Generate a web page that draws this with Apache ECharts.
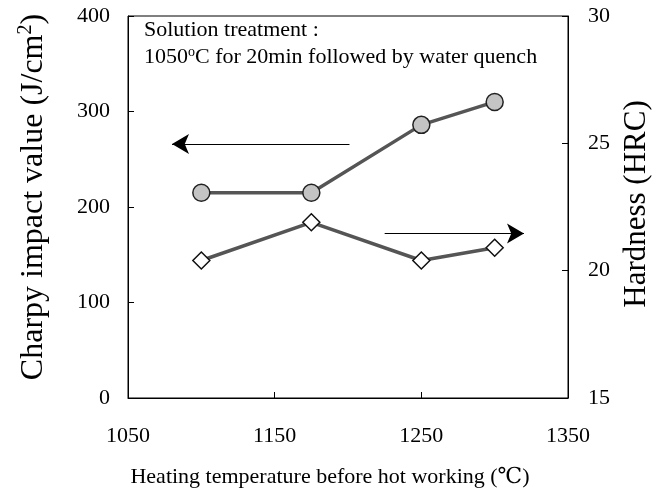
<!DOCTYPE html>
<html><head><meta charset="utf-8">
<script src="https://cdn.jsdelivr.net/npm/echarts@6/dist/echarts.min.js"></script>
<style>html,body{margin:0;padding:0;background:#fff}#c{width:664px;height:493px}</style>
</head><body><div id="c"></div>
<script>
const temps = [1100, 1175, 1250, 1300];
const charpy = [215, 215, 286, 310];
const hardness = [20.4, 21.9, 20.4, 20.9];
const xTicks = [1050, 1150, 1250, 1350];
const F = "'Liberation Serif', 'DejaVu Serif', serif";
const chart = echarts.init(document.getElementById('c'));
chart.setOption({
  animation: false,
  textStyle: {fontFamily: F},
  grid: {left: 128, right: 96, top: 16, bottom: 94, show: true, borderColor: '#000', borderWidth: 1},
  xAxis: {
    type: 'value', min: 1050, max: 1350, interval: 100,
    axisLine: {lineStyle: {color: '#000'}},
    axisTick: {inside: true, length: 6, lineStyle: {color: '#000'}},
    splitLine: {show: false},
    axisLabel: {color: '#000', fontFamily: F, fontSize: 22, margin: 27,
      formatter: v => xTicks.includes(v) ? String(v) : ''},
    name: 'Heating temperature before hot working (\u2103)', nameLocation: 'middle', nameGap: 68,
    nameTextStyle: {color: '#000', fontFamily: F, fontSize: 22, padding: [0, 36, 0, 0]}
  },
  yAxis: [{
    type: 'value', min: 0, max: 400, interval: 100,
    axisLine: {show: true, lineStyle: {color: '#000'}},
    axisTick: {show: true, inside: true, length: 6, lineStyle: {color: '#000'}},
    splitLine: {show: false},
    axisLabel: {color: '#000', fontFamily: F, fontSize: 22, margin: 18},
    name: 'Charpy impact value (J/cm{sup|2})', nameLocation: 'middle', nameGap: 76, nameRotate: 90,
    nameTextStyle: {color: '#000', fontFamily: F, fontSize: 32, padding: [0, 0, 0, 20],
      rich: {sup: {fontSize: 20, verticalAlign: 'top', padding: [0,0,16,0], fontFamily: F, color: '#000'}}}
  }, {
    type: 'value', min: 15, max: 30, interval: 5, position: 'right',
    axisLine: {show: true, lineStyle: {color: '#000'}},
    axisTick: {show: true, inside: true, length: 6, lineStyle: {color: '#000'}},
    splitLine: {show: false},
    axisLabel: {color: '#000', fontFamily: F, fontSize: 22, margin: 20},
    name: 'Hardness (HRC)', nameLocation: 'middle', nameGap: 50, nameRotate: 90,
    nameTextStyle: {color: '#000', fontFamily: F, fontSize: 31, padding: [0, 0, 0, 6]}
  }],
  series: [{
    type: 'line', yAxisIndex: 0,
    data: temps.map((t, i) => [t, charpy[i]]),
    symbol: 'circle', symbolSize: 17,
    itemStyle: {color: '#c4c4c4', borderColor: '#222', borderWidth: 1.5},
    lineStyle: {color: '#555', width: 3.5},
    markLine: {
      silent: true, symbol: ['none', 'arrow'], symbolSize: [15, 17],
      lineStyle: {color: '#000', width: 1.2, type: 'solid'},
      label: {show: false},
      data: [[{coord: [1201, 266]}, {coord: [1080, 266]}]]
    }
  }, {
    type: 'line', yAxisIndex: 1,
    data: temps.map((t, i) => [t, hardness[i]]),
    symbol: 'diamond', symbolSize: 17,
    itemStyle: {color: '#fff', borderColor: '#111', borderWidth: 1.5},
    lineStyle: {color: '#555', width: 3.5},
    markLine: {
      silent: true, symbol: ['none', 'arrow'], symbolSize: [15, 17],
      lineStyle: {color: '#000', width: 1.2, type: 'solid'},
      label: {show: false},
      data: [[{coord: [1225, 21.46]}, {coord: [1320, 21.46]}]]
    }
  }],
  graphic: [{
    type: 'text', left: 144, top: 19,
    style: {text: 'Solution treatment :', fontFamily: F, fontSize: 22, fill: '#000'}
  }, {
    type: 'text', left: 144, top: 45,
    style: {text: '1050{sup|o}C for 20min followed by water quench', fontFamily: F, fontSize: 22, fill: '#000',
      rich: {sup: {fontSize: 14, fontFamily: F, verticalAlign: 'top', padding: [0,0,10,0], fill: '#000'}}}
  }]
});
</script></body></html>
